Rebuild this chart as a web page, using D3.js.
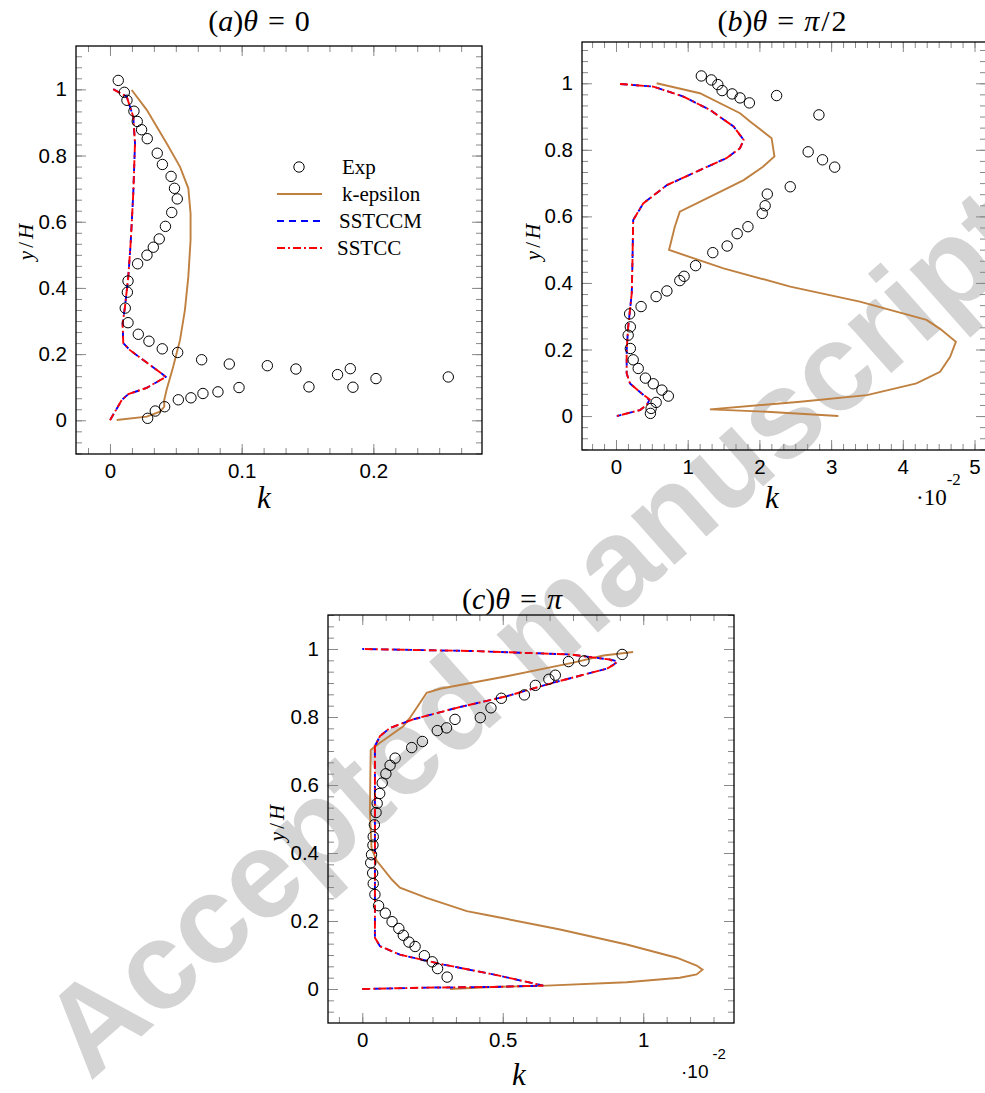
<!DOCTYPE html>
<html>
<head>
<meta charset="utf-8">
<script src="https://cdn.jsdelivr.net/npm/d3@7/dist/d3.min.js"></script>
<style>
  body { margin: 0; background: #fff; }
  svg { display: block; }
</style>
</head>
<body>
<div id="chart"></div>
<script>
// ---------------- data: [k, y/H] pairs ----------------
// panel (a): theta = 0, k as read on the axis
const expA = [[0.0063,1.027],[0.0109,0.991],[0.0129,0.967],[0.0182,0.934],[0.0207,0.903],[0.024,0.878],
  [0.0283,0.851],[0.0359,0.807],[0.0398,0.773],[0.0464,0.737],[0.049,0.701],[0.0511,0.669],[0.0469,0.628],
  [0.0421,0.586],[0.0374,0.548],[0.0329,0.523],[0.0281,0.499],[0.021,0.473],[0.0137,0.421],[0.0132,0.387],
  [0.0116,0.339],[0.0137,0.295],[0.0215,0.26],[0.0296,0.239],[0.0397,0.216],[0.0514,0.205],[0.0696,0.183],
  [0.0906,0.17],[0.1195,0.165],[0.1412,0.155],[0.1728,0.138],[0.1825,0.156],[0.202,0.126],[0.2569,0.131],
  [0.1845,0.1],[0.1511,0.101],[0.098,0.099],[0.082,0.086],[0.0706,0.081],[0.0615,0.068],[0.0519,0.062],
  [0.0415,0.041],[0.0344,0.028],[0.0286,0.006]];
const kepsA = [[0.0165,0.998],[0.0279,0.938],[0.043,0.837],[0.0532,0.766],[0.0595,0.701],[0.0612,0.625],
  [0.0612,0.545],[0.0595,0.434],[0.0569,0.333],[0.0532,0.243],[0.048,0.162],[0.043,0.092],[0.0412,0.061],
  [0.0412,0.041],[0.038,0.026],[0.0279,0.011],[0.0051,0.001]];
const ccmA = [[0.0025,1.001],[0.0127,0.978],[0.0177,0.917],[0.019,0.837],[0.0177,0.686],[0.0157,0.535],
  [0.0139,0.434],[0.0114,0.343],[0.0096,0.293],[0.0101,0.233],[0.0152,0.212],[0.0253,0.182],[0.039,0.142],
  [0.0423,0.131],[0.0279,0.098],[0.0139,0.079],[0.0089,0.061],[0.0,0.0]];
const ccA = [[0.0025,1.0],[0.0127,0.978],[0.0177,0.917],[0.019,0.837],[0.0177,0.686],[0.0157,0.535],
  [0.0139,0.434],[0.0114,0.343],[0.0096,0.293],[0.0101,0.233],[0.0152,0.212],[0.0253,0.182],[0.039,0.142],
  [0.0423,0.131],[0.0279,0.098],[0.0139,0.079],[0.0089,0.061],[0.0,0.0]];

// panel (b): theta = pi/2, k in units of 1e-2
const expB = [[1.19,1.022],[1.33,1.01],[1.42,0.996],[1.48,0.978],[1.62,0.968],[1.73,0.956],[1.86,0.941],
  [2.24,0.963],[2.83,0.905],[2.68,0.794],[2.88,0.77],[3.05,0.748],[2.43,0.689],[2.11,0.667],[2.08,0.632],
  [2.04,0.609],[1.84,0.569],[1.69,0.548],[1.55,0.511],[1.35,0.491],[1.11,0.452],[0.95,0.42],[0.89,0.407],
  [0.71,0.376],[0.56,0.359],[0.35,0.329],[0.19,0.307],[0.2,0.268],[0.17,0.243],[0.2,0.203],[0.24,0.169],
  [0.31,0.143],[0.41,0.114],[0.52,0.097],[0.64,0.078],[0.73,0.06],[0.56,0.041],[0.49,0.023],[0.48,0.008]];
const kepsB = [[0.567,1.0],[1.17,0.97],[1.73,0.91],[1.87,0.885],[2.17,0.835],[2.21,0.78],[2.05,0.749],
  [1.78,0.709],[1.5,0.679],[0.89,0.614],[0.82,0.569],[0.74,0.499],[1.5,0.444],[2.43,0.389],[3.4,0.344],
  [4.33,0.289],[4.52,0.262],[4.74,0.223],[4.66,0.178],[4.52,0.133],[4.19,0.098],[3.5,0.063],[2.57,0.043],
  [1.31,0.02],[2.1,0.013],[3.1,0.0]];
const ccmB = [[0.056,0.998],[0.52,0.99],[0.94,0.96],[1.31,0.92],[1.64,0.87],[1.78,0.83],[1.73,0.805],
  [1.54,0.775],[1.17,0.739],[0.71,0.694],[0.38,0.639],[0.24,0.589],[0.23,0.469],[0.22,0.369],[0.17,0.268],
  [0.149,0.198],[0.149,0.128],[0.195,0.098],[0.358,0.068],[0.465,0.048],[0.428,0.033],[0.335,0.018],[0.01,0.0]];
const ccB = [[0.056,0.998],[0.52,0.99],[0.94,0.96],[1.31,0.92],[1.64,0.87],[1.78,0.83],[1.73,0.805],
  [1.54,0.775],[1.17,0.739],[0.71,0.694],[0.38,0.639],[0.24,0.589],[0.23,0.469],[0.22,0.369],[0.17,0.268],
  [0.149,0.198],[0.149,0.128],[0.195,0.098],[0.358,0.068],[0.47,0.05],[0.428,0.033],[0.335,0.018],[0.01,0.0]];

// panel (c): theta = pi, k in units of 1e-2
const expC = [[0.925,0.984],[0.789,0.965],[0.734,0.963],[0.687,0.923],[0.664,0.911],[0.616,0.893],
  [0.577,0.865],[0.495,0.855],[0.458,0.827],[0.42,0.798],[0.33,0.793],[0.3,0.768],[0.267,0.76],[0.214,0.728],
  [0.176,0.71],[0.117,0.679],[0.099,0.658],[0.084,0.633],[0.071,0.606],[0.062,0.575],[0.053,0.546],
  [0.049,0.519],[0.043,0.483],[0.039,0.448],[0.038,0.423],[0.033,0.395],[0.03,0.371],[0.037,0.341],
  [0.039,0.31],[0.045,0.278],[0.058,0.245],[0.082,0.223],[0.106,0.198],[0.13,0.178],[0.146,0.158],
  [0.166,0.138],[0.188,0.125],[0.221,0.098],[0.249,0.08],[0.268,0.06],[0.302,0.035]];
const kepsC = [[0.312,0.0],[0.466,0.006],[0.656,0.01],[0.941,0.02],[1.13,0.033],[1.19,0.043],[1.211,0.057],
  [1.19,0.069],[1.119,0.092],[0.941,0.131],[0.704,0.175],[0.466,0.214],[0.372,0.229],[0.229,0.268],
  [0.134,0.298],[0.105,0.322],[0.051,0.378],[0.033,0.413],[0.027,0.523],[0.03,0.703],[0.063,0.724],
  [0.146,0.773],[0.17,0.798],[0.229,0.871],[0.277,0.883],[0.514,0.92],[0.751,0.96],[0.858,0.981],[0.964,0.991]];
const ccmC = [[0.0,0.0],[0.229,0.004],[0.466,0.006],[0.644,0.01],[0.466,0.043],[0.288,0.072],[0.134,0.101],
  [0.063,0.126],[0.045,0.151],[0.045,0.4],[0.045,0.714],[0.063,0.744],[0.099,0.768],[0.181,0.793],
  [0.336,0.827],[0.514,0.861],[0.68,0.901],[0.87,0.942],[0.911,0.963],[0.881,0.969],[0.739,0.984],
  [0.395,0.994],[0.0,1.0]];
const ccC = [[0.0,0.0],[0.229,0.004],[0.466,0.006],[0.644,0.01],[0.466,0.043],[0.288,0.072],[0.134,0.101],
  [0.063,0.126],[0.045,0.151],[0.045,0.4],[0.045,0.714],[0.063,0.744],[0.099,0.768],[0.181,0.793],
  [0.336,0.827],[0.514,0.861],[0.68,0.901],[0.87,0.942],[0.905,0.958],[0.881,0.969],[0.739,0.984],
  [0.395,0.994],[0.0,1.0]];

// tick labels
const yTicks = [0, 0.2, 0.4, 0.6, 0.8, 1];
const xTicksA = [0, 0.1, 0.2];
const xTicksB = [0, 1, 2, 3, 4, 5];
const xTicksC = [0, 0.5, 1];
const legendNames = ["Exp", "k-epsilon", "SSTCCM", "SSTCC"];

// ---------------- layout ----------------
const width = 985;
const height = 1093;
const serif = "'Liberation Serif', 'Times New Roman', serif";
const sans = "'Liberation Sans', Arial, Helvetica, sans-serif";
const brown = "#bf8040";

const svg = d3.select("#chart").append("svg")
    .attr("width", width)
    .attr("height", height);

// watermark goes underneath everything
svg.append("text")
    .attr("transform", "translate(90,1082) rotate(-41.5)")
    .attr("font-family", sans)
    .attr("font-weight", "bold")
    .attr("font-size", 124)
    .attr("fill", "#d4d4d4")
    .text("Accepted manuscript");

// panel settings (pixel frame + axis ranges)
const panels = [
  { frame: [76, 482, 46, 454], xDom: [-0.0258, 0.2825], yDom: [-0.1018, 1.131],
    xTicks: xTicksA, minorStep: 0.1 / 6,
    title: [["(",0],["a",1],[")",0],["θ",1],["=",0,10],["0",0,10]], titleX: 259, titleY: 31,
    kX: 264, kY: 508, yLabX: 26, yLabY: 242,
    exp: expA, keps: kepsA, ccm: ccmA, cc: ccA, legend: true },
  { frame: [582, 986, 42, 450], xDom: [-0.474, 5.16], yDom: [-0.102, 1.124],
    xTicks: xTicksB, minorStep: 1 / 6,
    title: [["(",0],["b",1],[")",0],["θ",1],["=",0,10],["π",1,10],["/",0,2],["2",0,2]], titleX: 782, titleY: 31,
    kX: 772, kY: 508, yLabX: 533, yLabY: 242,
    exp: expB, keps: kepsB, ccm: ccmB, cc: ccB,
    scaleNote: { x: 916, y: 505, font: serif, size: 23, supSize: 17, supDx: 0, supDy: -20 } },
  { frame: [328, 734, 615, 1023], xDom: [-0.122, 1.323], yDom: [-0.1, 1.1],
    xTicks: xTicksC, minorStep: 0.5 / 6,
    title: [["(",0],["c",1],[")",0],["θ",1],["=",0,10],["π",1,10]], titleX: 512, titleY: 609,
    kX: 519, kY: 1085, yLabX: 277, yLabY: 823,
    exp: expC, keps: kepsC, ccm: ccmC, cc: ccC,
    scaleNote: { x: 681, y: 1078, font: sans, size: 19, supSize: 15, supDx: 4, supDy: -19 } }
];

panels.forEach(drawPanel);

function drawPanel(p) {
  const [x0, x1, y0, y1] = p.frame;
  const x = d3.scaleLinear().domain(p.xDom).range([x0, x1]);
  const y = d3.scaleLinear().domain(p.yDom).range([y1, y0]);
  const g = svg.append("g");

  // minor tick positions (every 1/6 of a major step)
  const n0 = Math.ceil(p.xDom[0] / p.minorStep - 1e-6);
  const n1 = Math.floor(p.xDom[1] / p.minorStep + 1e-6);
  const xMinor = d3.range(n0, n1 + 1).map(i => i * p.minorStep);
  const yMinor = d3.range(-3, 35).map(i => i * 0.2 / 6)
      .filter(v => v >= p.yDom[0] && v <= p.yDom[1]);

  // ticks point inwards on all four sides
  function addAxis(axis, tx, ty, labels) {
    const a = g.append("g")
        .attr("transform", "translate(" + tx + "," + ty + ")")
        .call(axis);
    a.select(".domain").remove();
    a.selectAll("line").attr("stroke", "#8a8a8a").attr("stroke-width", 1);
    a.selectAll("text")
        .attr("font-family", sans)
        .attr("font-size", 20.5)
        .attr("fill", "#000");
    if (!labels) a.selectAll("text").remove();
    return a;
  }
  addAxis(d3.axisBottom(x).tickValues(xMinor).tickSize(-6), 0, y1, false);
  addAxis(d3.axisTop(x).tickValues(xMinor).tickSize(-6), 0, y0, false);
  addAxis(d3.axisLeft(y).tickValues(yMinor).tickSize(-6), x0, 0, false);
  addAxis(d3.axisRight(y).tickValues(yMinor).tickSize(-6), x1, 0, false);
  addAxis(d3.axisBottom(x).tickValues(p.xTicks).tickSize(-10).tickPadding(9).tickFormat(d => String(d)), 0, y1, true);
  addAxis(d3.axisTop(x).tickValues(p.xTicks).tickSize(-10), 0, y0, false);
  addAxis(d3.axisLeft(y).tickValues(yTicks).tickSize(-10).tickPadding(9).tickFormat(d => String(d)), x0, 0, true);
  addAxis(d3.axisRight(y).tickValues(yTicks).tickSize(-10), x1, 0, false);

  // frame
  g.append("rect")
      .attr("x", x0).attr("y", y0)
      .attr("width", x1 - x0).attr("height", y1 - y0)
      .attr("fill", "none")
      .attr("stroke", "#000")
      .attr("stroke-width", 1.3);

  // curves
  const line = d3.line().x(d => x(d[0])).y(d => y(d[1]));
  g.append("path").datum(p.keps)
      .attr("d", line).attr("fill", "none")
      .attr("stroke", brown).attr("stroke-width", 1.9);
  g.append("path").datum(p.ccm)
      .attr("d", line).attr("fill", "none")
      .attr("stroke", "#0000ff").attr("stroke-width", 1.9)
      .attr("stroke-dasharray", "7,5");
  g.append("path").datum(p.cc)
      .attr("d", line).attr("fill", "none")
      .attr("stroke", "#ff0000").attr("stroke-width", 1.9)
      .attr("stroke-dasharray", "8,3,2,3");

  // experiment markers
  g.selectAll(".exp").data(p.exp)
      .enter().append("circle")
      .attr("cx", d => x(d[0]))
      .attr("cy", d => y(d[1]))
      .attr("r", 5.2)
      .attr("fill", "none")
      .attr("stroke", "#000")
      .attr("stroke-width", 1);

  // title
  mathText(g.append("text")
      .attr("x", p.titleX).attr("y", p.titleY)
      .attr("text-anchor", "middle")
      .attr("font-size", 30), p.title);

  // x label
  g.append("text")
      .attr("x", p.kX).attr("y", p.kY)
      .attr("text-anchor", "middle")
      .attr("font-family", serif)
      .attr("font-style", "italic")
      .attr("font-size", 31)
      .text("k");

  // y label
  const yl = g.append("text")
      .attr("transform", "translate(" + p.yLabX + "," + p.yLabY + ") rotate(-90)")
      .attr("text-anchor", "middle")
      .attr("dominant-baseline", "central")
      .attr("font-size", 21);
  mathText(yl, [["y",1],["/",0,3],["H",1,3]]);

  // 10^-2 multiplier
  if (p.scaleNote) {
    const s = p.scaleNote;
    const t = g.append("text")
        .attr("x", s.x).attr("y", s.y)
        .attr("font-family", s.font)
        .attr("font-size", s.size);
    t.append("tspan").text("·10");
    t.append("tspan")
        .attr("dx", s.supDx).attr("dy", s.supDy)
        .attr("font-size", s.supSize)
        .text("-2");
  }

  if (p.legend) drawLegend(g);
}

// text built from upright / italic pieces; third entry = gap before the piece
function mathText(sel, parts) {
  sel.attr("font-family", serif);
  parts.forEach(function (pt) {
    const t = sel.append("tspan")
        .attr("font-style", pt[1] ? "italic" : "normal")
        .text(pt[0]);
    if (pt[2]) t.attr("dx", pt[2]);
  });
}

function drawLegend(g) {
  const rows = [167, 194, 221, 248];
  const textX = [342, 342, 339, 337];
  // Exp marker
  g.append("circle")
      .attr("cx", 299).attr("cy", rows[0]).attr("r", 5.2)
      .attr("fill", "none").attr("stroke", "#000").attr("stroke-width", 1);
  const styles = [
    { color: brown, dash: null },
    { color: "#0000ff", dash: "7,5" },
    { color: "#ff0000", dash: "8,3,2,3" }
  ];
  styles.forEach(function (s, i) {
    g.append("line")
        .attr("x1", 277).attr("x2", 322)
        .attr("y1", rows[i + 1]).attr("y2", rows[i + 1])
        .attr("stroke", s.color).attr("stroke-width", 1.9)
        .attr("stroke-dasharray", s.dash);
  });
  legendNames.forEach(function (name, i) {
    g.append("text")
        .attr("x", textX[i]).attr("y", rows[i] + 7)
        .attr("font-family", serif)
        .attr("font-size", 21)
        .text(name);
  });
}
</script>
</body>
</html>
